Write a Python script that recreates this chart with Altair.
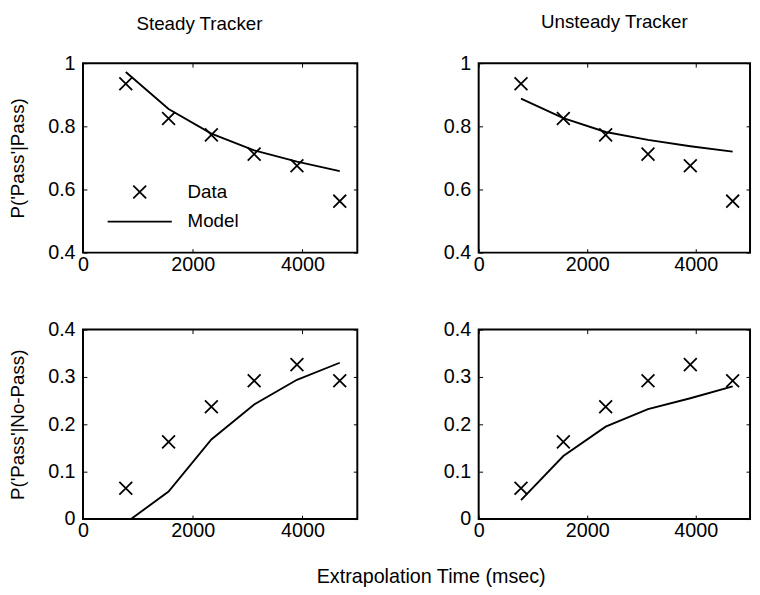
import altair as alt
import pandas as pd

times = [780, 1560, 2340, 3120, 3900, 4680]
pass_data = [0.935, 0.825, 0.773, 0.712, 0.675, 0.563]
nopass_data = [0.065, 0.163, 0.237, 0.292, 0.326, 0.292]
steady_pass_model = [0.972, 0.855, 0.777, 0.724, 0.688, 0.658]
unsteady_pass_model = [0.888, 0.826, 0.782, 0.757, 0.737, 0.720]
steady_nopass_model = [-0.008, 0.058, 0.168, 0.242, 0.294, 0.330]
unsteady_nopass_model = [0.040, 0.133, 0.195, 0.232, 0.255, 0.280]

x_ticks = [0, 2000, 4000]
pass_ticks = [0.4, 0.6, 0.8, 1.0]
nopass_ticks = [0.0, 0.1, 0.2, 0.3, 0.4]

FONT = "Liberation Sans"
XPATH = "M-1,-1L1,1M-1,1L1,-1"
LINEPATH = "M-5,0L5,0"


def panel(model_vals, data_vals, ydomain, yticks, ytitle, title, title_dx, title_offset,
          legend, width):
    pts = pd.DataFrame({"t": times, "p": data_vals, "series": ["Data"] * len(times)})
    mdl = pd.DataFrame({"t": times, "p": model_vals})
    xscale = alt.Scale(domain=[0, 5000], nice=False, zero=False)
    yscale = alt.Scale(domain=ydomain, nice=False, zero=False)
    x_bottom = alt.X("t:Q", scale=xscale, axis=alt.Axis(
        orient="bottom", values=x_ticks, format="d", offset=-4, tickSize=4,
        domain=False, grid=False, labelPadding=2, labelFontSize=20,
        labelFont=FONT, labelColor="black", tickColor="black", labelFlush=False,
        labelOverlap=False, title=None))
    y_left = alt.Y("p:Q", scale=yscale, axis=alt.Axis(
        orient="left", values=yticks, format="~g", offset=-4, tickSize=4,
        domain=False, grid=False, labelPadding=8, labelFontSize=20,
        labelFont=FONT, labelColor="black", tickColor="black", labelFlush=False,
        labelOverlap=False, title=ytitle, titleFont=FONT, titleFontSize=19,
        titleFontWeight="normal", titleColor="black", titlePadding=20))
    x_top = alt.X("t:Q", scale=xscale, axis=alt.Axis(
        orient="top", values=x_ticks, offset=-4, tickSize=4, domain=False,
        grid=False, labels=False, tickColor="black", title=None))
    y_right = alt.Y("p:Q", scale=yscale, axis=alt.Axis(
        orient="right", values=yticks, offset=-4, tickSize=4, domain=False,
        grid=False, labels=False, tickColor="black", title=None))
    if legend:
        leg = alt.Legend(orient="none", legendX=48, legendY=121, title=None,
                         symbolSize=169, symbolStrokeWidth=1.8,
                         symbolStrokeColor="black", symbolFillColor="transparent",
                         labelFont=FONT, labelFontSize=19, labelColor="black",
                         labelOffset=39, rowPadding=10)
    else:
        leg = None
    shape = alt.Shape("series:N", scale=alt.Scale(domain=["Data", "Model"],
                                                   range=[XPATH, LINEPATH]),
                      legend=leg)
    points = alt.Chart(pts).mark_point(
        filled=False, size=169, strokeWidth=1.8, color="black", opacity=1
    ).encode(x=x_bottom, y=y_left, shape=shape)
    line = alt.Chart(mdl).mark_line(color="black", strokeWidth=1.9, clip=True).encode(
        x=x_top, y=y_right)
    props = dict(width=width, height=192)
    if title:
        props["title"] = alt.TitleParams(title, font=FONT, fontSize=19, fontWeight="normal",
                                         color="black", dx=title_dx, offset=title_offset)
    return alt.layer(points, line).resolve_axis(
        x="independent", y="independent").properties(**props)


tl = panel(steady_pass_model, pass_data, [0.4, 1.0], pass_ticks, "P('Pass'|Pass)",
           "Steady Tracker", -21, 20, True, 278)
tr = panel(unsteady_pass_model, pass_data, [0.4, 1.0], pass_ticks, None,
           "Unsteady Tracker", 0, 22, False, 275)
bl = panel(steady_nopass_model, nopass_data, [0.0, 0.4], nopass_ticks, "P('Pass'|No-Pass)",
           None, 0, 0, False, 278)
br = panel(unsteady_nopass_model, nopass_data, [0.0, 0.4], nopass_ticks, None,
           None, 0, 0, False, 275)

chart = alt.concat(tl, tr, bl, br, columns=2, spacing={"row": 78, "column": 123},
                   bounds="flush").properties(
    padding=0,
    background="white",
    title=alt.TitleParams("Extrapolation Time (msec)", orient="bottom", anchor="middle",
                          font=FONT, fontSize=20, fontWeight="normal", color="black",
                          offset=26, dx=52),
).configure_view(stroke="black", strokeWidth=2)

chart.save("out.html", embed_options={"renderer": "svg", "actions": False})
